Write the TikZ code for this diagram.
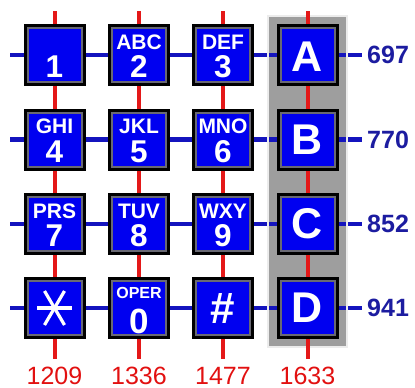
\documentclass[tikz,border=0pt]{standalone}
\usepackage{fontspec}
\setmainfont{Liberation Sans}
\definecolor{keyblue}{RGB}{0,0,240}
\definecolor{lineblue}{RGB}{20,20,190}
\definecolor{labelblue}{RGB}{28,28,160}
\definecolor{linered}{RGB}{228,24,24}
\definecolor{labelred}{RGB}{226,16,16}
\definecolor{panelgray}{RGB}{158,158,158}
\definecolor{framegray}{RGB}{105,105,115}
\begin{document}
\begin{tikzpicture}[x=1pt,y=-1pt,
  keybox/.style={draw=black,line width=3pt,fill=keyblue,minimum width=59pt,minimum height=59pt,inner sep=0pt,
    path picture={\draw[framegray,line width=2pt]([shift={(2.5pt,-2.5pt)}]path picture bounding box.north west) rectangle ([shift={(-2.5pt,2.5pt)}]path picture bounding box.south east);}},
  digit/.style={text=white,font=\bfseries\fontsize{31.5}{31.5}\selectfont,inner sep=0pt,anchor=base},
  letters/.style={text=white,font=\bfseries\fontsize{21}{21}\selectfont,inner sep=0pt,anchor=base},
  big/.style={text=white,font=\bfseries\fontsize{43}{43}\selectfont,inner sep=0pt},
  vline/.style={linered,line width=4pt},
  hline/.style={lineblue,line width=4.5pt},
  rowlabel/.style={text=labelblue,font=\bfseries\fontsize{25}{25}\selectfont,inner sep=0pt,anchor=west},
  collabel/.style={text=labelred,font=\fontsize{25}{25}\selectfont,inner sep=0pt,anchor=base},
  starline/.style={white,line width=3.2pt}
]
\useasboundingbox (0,0) rectangle (415,388);
% panel
\fill[panelgray] (268,16) rectangle (347,347);
% line end coordinates
\coordinate (r1l) at (10,55);   \coordinate (r1r) at (362,55);
\coordinate (r2l) at (10,139.5);\coordinate (r2r) at (362,139.5);
\coordinate (r3l) at (10,224);  \coordinate (r3r) at (362,224);
\coordinate (r4l) at (10,308);  \coordinate (r4r) at (362,308);
\coordinate (c1t) at (54.5,11); \coordinate (c1b) at (54.5,359);
\coordinate (c2t) at (139,11);  \coordinate (c2b) at (139,359);
\coordinate (c3t) at (223,11);  \coordinate (c3b) at (223,359);
\coordinate (c4t) at (307.5,11);\coordinate (c4b) at (307.5,359);
% horizontal lines
\foreach \r in {1,2,3,4} \draw[hline] (r\r l) -- (r\r r);
% panel edge
\draw[white!85!gray,line width=2.5pt] (268,16) rectangle (347,347);
% vertical lines
\foreach \c in {1,2,3,4} \draw[vline] (c\c t) -- (c\c b);
% keys
\node[keybox] (k1) at (54.5,55) {};
\node[keybox] (k2) at (139,55) {};
\node[keybox] (k3) at (223,55) {};
\node[keybox] (kA) at (307.5,55) {};
\node[keybox] (k4) at (54.5,139.5) {};
\node[keybox] (k5) at (139,139.5) {};
\node[keybox] (k6) at (223,139.5) {};
\node[keybox] (kB) at (307.5,139.5) {};
\node[keybox] (k7) at (54.5,224) {};
\node[keybox] (k8) at (139,224) {};
\node[keybox] (k9) at (223,224) {};
\node[keybox] (kC) at (307.5,224) {};
\node[keybox] (ks) at (54.5,308) {};
\node[keybox] (k0) at (139,308) {};
\node[keybox] (kh) at (223,308) {};
\node[keybox] (kD) at (307.5,308) {};
% key texts
\node[digit] (t1) at ([yshift=-22.5pt]k1.center) {1};
\node[letters] (l2) at ([yshift=6pt]k2.center) {ABC};
\node[digit] (t2) at ([yshift=-22.5pt]k2.center) {2};
\node[letters] (l3) at ([yshift=6pt]k3.center) {DEF};
\node[digit] (t3) at ([yshift=-22.5pt]k3.center) {3};
\node[letters] (l4) at ([yshift=6pt]k4.center) {GHI};
\node[digit] (t4) at ([yshift=-22.5pt]k4.center) {4};
\node[letters] (l5) at ([yshift=6pt]k5.center) {JKL};
\node[digit] (t5) at ([yshift=-22.5pt]k5.center) {5};
\node[letters] (l6) at ([yshift=6pt]k6.center) {MNO};
\node[digit] (t6) at ([yshift=-22.5pt]k6.center) {6};
\node[letters] (l7) at ([yshift=6pt]k7.center) {PRS};
\node[digit] (t7) at ([yshift=-22.5pt]k7.center) {7};
\node[letters] (l8) at ([yshift=6pt]k8.center) {TUV};
\node[digit] (t8) at ([yshift=-22.5pt]k8.center) {8};
\node[letters] (l9) at ([yshift=6pt]k9.center) {WXY};
\node[digit] (t9) at ([yshift=-22.5pt]k9.center) {9};
\node[letters,font=\bfseries\fontsize{16}{16}\selectfont] (l0) at ([yshift=10pt]k0.center) {OPER};
\node[digit,font=\bfseries\fontsize{35}{35}\selectfont] (t0) at ([yshift=-25pt]k0.center) {0};
\node[big] (tA) at ([yshift=-2pt]kA.center) {A};
\node[big] (tB) at (kB.center) {B};
\node[big] (tC) at (kC.center) {C};
\node[big] (tD) at (kD.center) {D};
\node[big,font=\bfseries\fontsize{44}{44}\selectfont] (th) at ([yshift=-1pt]kh.center) {\#};
% star
\draw[starline] ([xshift=-17.5pt]ks.center) -- ([xshift=17.5pt]ks.center);
\draw[starline] ([xshift=-10pt,yshift=17pt]ks.center) -- ([xshift=10pt,yshift=-17pt]ks.center);
\draw[starline] ([xshift=10pt,yshift=17pt]ks.center) -- ([xshift=-10pt,yshift=-17pt]ks.center);
% labels
\node[rowlabel] (f697) at (367,55) {697};
\node[rowlabel] (f770) at (367,139.5) {770};
\node[rowlabel] (f852) at (367,224) {852};
\node[rowlabel] (f941) at (367,308) {941};
\node[collabel] (f1209) at (54.5,384) {1209};
\node[collabel] (f1336) at (139,384) {1336};
\node[collabel] (f1477) at (223,384) {1477};
\node[collabel] (f1633) at (307.5,384) {1633};
\end{tikzpicture}
\end{document}
